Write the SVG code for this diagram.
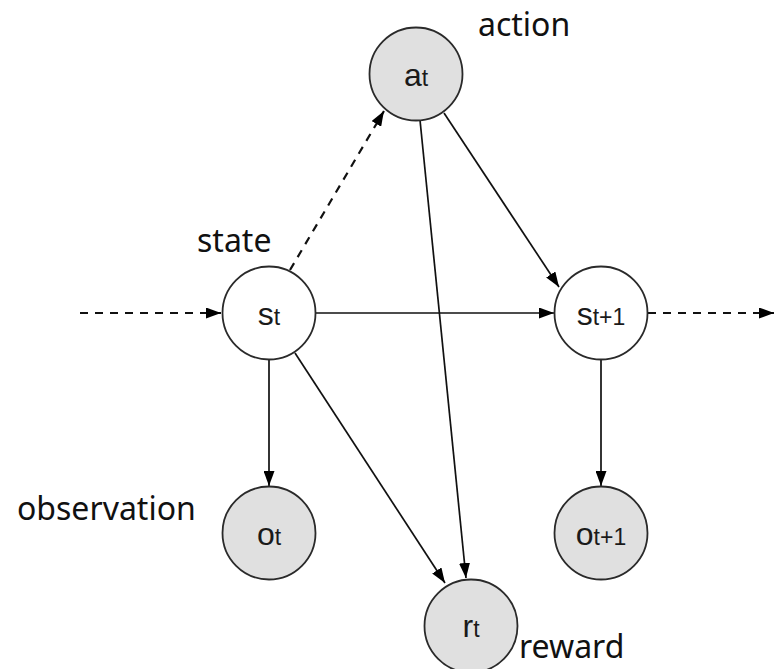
<svg xmlns="http://www.w3.org/2000/svg" width="774" height="669" viewBox="0 0 774 669">
  <style>
    .node circle { stroke: #2a2a2a; stroke-width: 1.8; }
    .obs circle { fill: #e0e0e0; }
    .hid circle { fill: #ffffff; }
    .sym { font-family: "Liberation Sans", Arial, sans-serif; font-size: 32px; fill: #1a1a1a; text-anchor: middle; }
    .sub { font-size: 23px; }
    .lbl { font-family: "Noto Sans", "Open Sans", sans-serif; font-size: 32px; fill: #111; }
    .edge { stroke: #111; stroke-width: 1.7; fill: none; marker-end: url(#head); }
    .dash { stroke-dasharray: 8 7; stroke-width: 2.2; }
  </style>
  <defs>
    <marker id="head" markerUnits="userSpaceOnUse" markerWidth="15" markerHeight="11" refX="15" refY="5.5" orient="auto">
      <path d="M0,0 L15,5.5 L0,11 z" fill="#000"/>
    </marker>
  </defs>
  <rect width="774" height="669" fill="#fff"/>

  <!-- connectors -->
  <g id="edges">
    <line class="edge dash" x1="80" y1="313" x2="221" y2="313"/>
    <line class="edge dash" x1="290" y1="270" x2="384" y2="111"/>
    <line class="edge dash" x1="648" y1="313" x2="774" y2="313"/>
    <line class="edge" x1="444" y1="113" x2="559" y2="287"/>
    <line class="edge" x1="420" y1="120" x2="466" y2="578"/>
    <line class="edge" x1="316" y1="313" x2="554" y2="313"/>
    <line class="edge" x1="269" y1="360" x2="269" y2="486"/>
    <line class="edge" x1="295" y1="353" x2="445" y2="583"/>
    <line class="edge" x1="601" y1="360" x2="601" y2="486"/>
  </g>

  <!-- nodes -->
  <g id="a_t" class="node obs">
    <circle cx="416" cy="74" r="46.5"/>
    <text class="sym" x="416" y="86">a<tspan class="sub">t</tspan></text>
  </g>
  <g id="s_t" class="node hid">
    <circle cx="269" cy="313" r="46.5"/>
    <text class="sym" x="269" y="325">s<tspan class="sub">t</tspan></text>
  </g>
  <g id="s_t1" class="node hid">
    <circle cx="601" cy="313" r="46.5"/>
    <text class="sym" x="601" y="325">s<tspan class="sub">t+1</tspan></text>
  </g>
  <g id="o_t" class="node obs">
    <circle cx="269" cy="533" r="46.5"/>
    <text class="sym" x="269" y="545">o<tspan class="sub">t</tspan></text>
  </g>
  <g id="o_t1" class="node obs">
    <circle cx="601" cy="533" r="46.5"/>
    <text class="sym" x="601" y="545">o<tspan class="sub">t+1</tspan></text>
  </g>
  <g id="r_t" class="node obs">
    <circle cx="471" cy="626" r="46.5"/>
    <text class="sym" x="471" y="637">r<tspan class="sub">t</tspan></text>
  </g>

  <!-- labels -->
  <g id="labels">
    <text class="lbl" x="478" y="36">action</text>
    <text class="lbl" x="197" y="252">state</text>
    <text class="lbl" x="17" y="520">observation</text>
    <text class="lbl" x="519" y="658">reward</text>
  </g>
</svg>
